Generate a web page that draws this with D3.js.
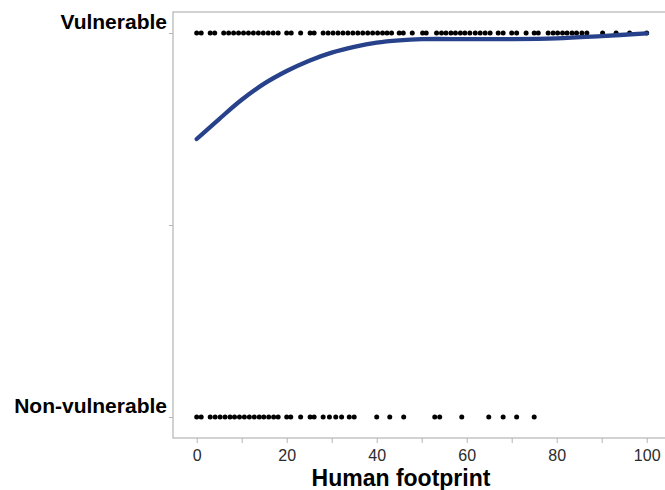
<!DOCTYPE html>
<html>
<head>
<meta charset="utf-8">
<script src="https://cdn.jsdelivr.net/npm/d3@7"></script>
<style>
  body { margin: 0; background: #fff; }
  svg { display: block; }
</style>
</head>
<body>
<svg id="chart" width="665" height="490"></svg>
<script>
// Observed human footprint values, by vulnerability class
const vulnerableX = [
  0, 1, 3, 4,
  6, 7.1, 8.2, 9.3, 10.4, 11.5, 12.6, 13.7, 14.8, 15.9, 17, 18.1,
  20, 21, 23.1, 25.2, 26.1,
  28.1, 29.2, 30.3, 31.4, 32.5, 33.6, 34.7, 35.8, 36.9, 38, 39.1, 40.2, 41.3, 42.3, 43.3,
  45, 45.9, 47.9, 50.2, 51,
  53.3, 54.4, 55.4, 56.5, 57.5, 58.6, 59.6, 60.7,
  61.9, 63, 64.1, 65.2,
  67, 68.1, 70, 71.1, 73.2, 75, 75.9,
  78.1, 79.2, 80.2, 81.3, 82.3, 83.4, 84.4,
  85.6, 86.7, 90.2, 93.2, 96.2, 100
];
const nonVulnerableX = [
  0, 1,
  3, 4.1, 5.2, 6.3, 7.4, 8.4, 9.5, 10.6, 11.7, 12.8, 13.9, 14.9, 16, 17.1, 18.1,
  20, 20.9, 23.1, 25.2, 26.1,
  28.1, 29.5, 30.9, 32.2, 33.9, 35,
  40, 42.9, 46, 52.9, 54, 58.9, 64.9, 68.1, 71.1, 75
];

// Fitted probability of being vulnerable
const fitX = [0, 5, 10, 15, 20, 25, 30, 35, 40, 45, 50, 60, 70, 80, 90, 100];
const fitP = [0.724, 0.776, 0.826, 0.868, 0.901, 0.928, 0.949, 0.964, 0.975, 0.981, 0.984, 0.984, 0.984, 0.986, 0.992, 0.999];

const xTicks = [0, 10, 20, 30, 40, 50, 60, 70, 80, 90, 100];
const yTicks = [0, 0.5, 1];
const yTickLabels = {0: 'Non-vulnerable', 1: 'Vulnerable'};

const svg = d3.select('#chart');

const x = d3.scaleLinear().domain([0, 100]).range([196.7, 646.7]);
const y = d3.scaleLinear().domain([0, 1]).range([417, 33]);

const frameLeft = 173, frameTop = 12, frameBottom = 438;

// plot frame
svg.append('rect')
  .attr('x', frameLeft)
  .attr('y', frameTop)
  .attr('width', 520)
  .attr('height', frameBottom - frameTop)
  .attr('fill', 'none')
  .attr('stroke', '#b4b4b4')
  .attr('stroke-width', 1.2);

// x axis
const xAxis = svg.append('g')
  .attr('transform', `translate(0, ${frameBottom})`)
  .call(d3.axisBottom(x)
    .tickValues(xTicks)
    .tickSize(5)
    .tickFormat(d => d % 20 === 0 ? d : ''));
xAxis.select('.domain').remove();
xAxis.selectAll('.tick line').attr('stroke', '#b4b4b4');
xAxis.selectAll('.tick text')
  .attr('dy', '0')
  .attr('y', 23)
  .attr('fill', '#2b2b2b')
  .attr('font-family', 'Liberation Sans, Arial, sans-serif')
  .attr('font-size', 16);

// y axis
const yAxis = svg.append('g')
  .attr('transform', `translate(${frameLeft}, 0)`)
  .call(d3.axisLeft(y)
    .tickValues(yTicks)
    .tickSize(4)
    .tickFormat(d => yTickLabels[d] || ''));
yAxis.select('.domain').remove();
yAxis.selectAll('.tick line').attr('stroke', '#b4b4b4');
yAxis.selectAll('.tick text')
  .attr('x', -6)
  .attr('dy', '-5')
  .attr('fill', '#000')
  .attr('font-family', 'Liberation Sans, Arial, sans-serif')
  .attr('font-weight', 'bold')
  .attr('font-size', 21);

// x axis title
svg.append('text')
  .attr('x', 401)
  .attr('y', 486)
  .attr('text-anchor', 'middle')
  .attr('font-family', 'Liberation Sans, Arial, sans-serif')
  .attr('font-weight', 'bold')
  .attr('font-size', 23)
  .attr('fill', '#000')
  .text('Human footprint');

// observations
svg.append('g')
  .selectAll('circle.vul')
  .data(vulnerableX)
  .join('circle')
  .attr('cx', d => x(d))
  .attr('cy', y(1))
  .attr('r', 2.5)
  .attr('fill', '#000');

svg.append('g')
  .selectAll('circle.non')
  .data(nonVulnerableX)
  .join('circle')
  .attr('cx', d => x(d))
  .attr('cy', y(0))
  .attr('r', 2.5)
  .attr('fill', '#000');

// fitted curve
const line = d3.line()
  .curve(d3.curveCatmullRom.alpha(0.5))
  .x((d, i) => x(fitX[i]))
  .y(d => y(d));

svg.append('path')
  .attr('d', line(fitP))
  .attr('fill', 'none')
  .attr('stroke', '#27428a')
  .attr('stroke-width', 4.3)
  .attr('stroke-linecap', 'round');
</script>
</body>
</html>
